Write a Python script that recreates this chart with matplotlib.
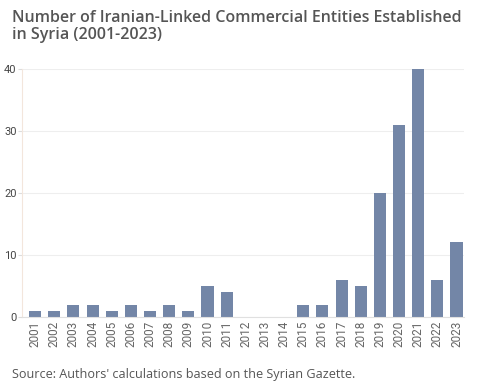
import matplotlib
matplotlib.use("Agg")
import matplotlib.pyplot as plt

years = [str(y) for y in range(2001, 2024)]
counts = [1, 1, 2, 2, 1, 2, 1, 2, 1, 5, 4, 0, 0, 0, 2, 2, 6, 5, 20, 31, 40, 6, 12]
yticks = [0, 10, 20, 30, 40]

title = "Number of Iranian-Linked Commercial Entities Established\nin Syria (2001-2023)"
source = "Source: Authors' calculations based on the Syrian Gazette."

BAR = "#7386a7"
TXT = "#555555"

fig = plt.figure(figsize=(4.8, 3.87), dpi=100)
ax = fig.add_axes([0.046, 0.181, 0.921, 0.6415])

x = range(len(years))
ax.bar(x, counts, width=0.63, color=BAR, zorder=2)

ax.set_xlim(-0.68, len(years) - 0.6)
ax.set_ylim(0, 40)
ax.set_yticks(yticks)
ax.set_xticks(list(x))
ax.set_xticklabels(years, rotation=90, fontsize=8.5, color="#666666", family="Roboto")
ax.tick_params(axis="x", length=0, pad=3)
ax.tick_params(axis="y", length=3, color="#dddddd", labelsize=8, labelcolor="#444444", pad=1)
for lab in ax.get_yticklabels():
    lab.set_family("Roboto")

ax.grid(axis="y", color="#eeeeee", linewidth=0.8, zorder=0)
for s in ("top", "right"):
    ax.spines[s].set_visible(False)
ax.spines["left"].set_color("#f3e6dc")
ax.spines["left"].set_linewidth(0.8)
ax.spines["bottom"].set_color("#e0e0e0")
ax.spines["bottom"].set_linewidth(0.8)

fig.text(0.025, 0.975, title, ha="left", va="top", fontsize=11.5,
         color=TXT, family="Open Sans", weight="semibold", linespacing=1.1)
fig.text(0.025, 0.015, source, ha="left", va="bottom", fontsize=9.05,
         color=TXT, family="Open Sans")

fig.savefig("out.png", dpi=100)
